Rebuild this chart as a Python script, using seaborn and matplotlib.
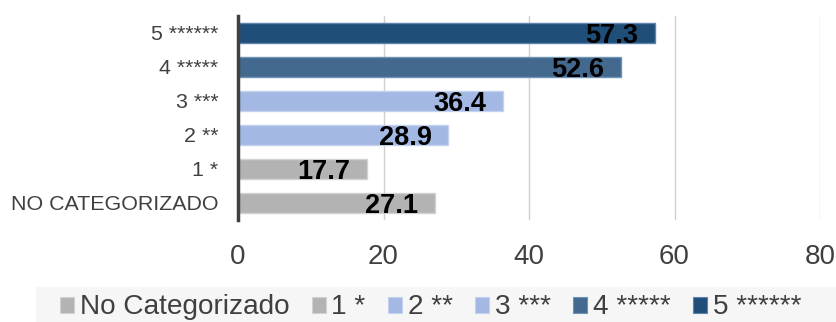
import matplotlib
matplotlib.use("Agg")
import matplotlib.pyplot as plt
import matplotlib.patches as mpatches
import pandas as pd
import seaborn as sns

# Categories (top to bottom) and their values
categories = ["5 ******", "4 *****", "3 ***", "2 **", "1 *", "NO CATEGORIZADO"]
values = [57.3, 52.6, 36.4, 28.9, 17.7, 27.1]
legend_labels = ["No Categorizado", "1 *", "2 **", "3 ***", "4 *****", "5 ******"]
x_ticks = [0, 20, 40, 60, 80]

bar_colors = {
    "5 ******": "#1F4E79",
    "4 *****": "#43698F",
    "3 ***": "#A3B8E2",
    "2 **": "#A3B8E2",
    "1 *": "#B3B3B3",
    "NO CATEGORIZADO": "#B3B3B3",
}
edge_colors = {
    "5 ******": "#5E84AE",
    "4 *****": "#7092B5",
    "3 ***": "#C3D2EE",
    "2 **": "#C3D2EE",
    "1 *": "#D2D2D2",
    "NO CATEGORIZADO": "#D2D2D2",
}
legend_keys = ["NO CATEGORIZADO", "1 *", "2 **", "3 ***", "4 *****", "5 ******"]

sns.set_theme(style="white")
plt.rcParams["font.family"] = ["Liberation Sans", "DejaVu Sans"]

df = pd.DataFrame({"categoria": categories, "valor": values})

fig = plt.figure(figsize=(8.37, 3.22), dpi=100)
ax = fig.add_axes([238 / 837, 1 - 220 / 322, (820 - 238) / 837, (220 - 16) / 322])

sns.barplot(
    data=df, x="valor", y="categoria", hue="categoria", order=categories,
    hue_order=categories, palette=bar_colors, orient="h", width=0.59,
    saturation=1, legend=False, ax=ax,
)

for patch, cat in zip(ax.patches, categories):
    patch.set_edgecolor(edge_colors[cat])
    patch.set_linewidth(1.0)

# Value labels, right-aligned inside the end of each bar
for i, (cat, v) in enumerate(zip(categories, values)):
    ax.annotate(
        f"{v:.1f}", xy=(v, i), xytext=(-12, -2.5), textcoords="offset points",
        ha="right", va="center", fontsize=19.5, fontweight="bold", color="black",
    )

ax.set_xlim(0, 80)
ax.set_ylim(len(categories) - 0.5, -0.5)
ax.set_xticks(x_ticks)
ax.set_xticklabels([str(t) for t in x_ticks])
ax.set_xlabel("")
ax.set_ylabel("")

ax.grid(axis="x", color="#D0D0D0", linewidth=1.0)
ax.grid(axis="y", visible=False)
ax.set_axisbelow(True)

for side in ["top", "right", "bottom"]:
    ax.spines[side].set_visible(False)
ax.spines["left"].set_color("#404040")
ax.spines["left"].set_linewidth(2.5)

ax.tick_params(axis="x", length=0, pad=17, labelsize=20, labelcolor="#404040")
ax.tick_params(axis="y", length=0, pad=14, labelsize=15.4, labelcolor="#404040")

# Legend band along the bottom
band = mpatches.Rectangle((36 / 837, 0), 1 - 36 / 837, 35 / 322,
                          transform=fig.transFigure, facecolor="#F6F6F6",
                          edgecolor="none", zorder=0)
fig.patches.append(band)

handles = [mpatches.Patch(facecolor=bar_colors[k], edgecolor=edge_colors[k], linewidth=0.8)
           for k in legend_keys]
fig.legend(
    handles, legend_labels, loc="center left", bbox_to_anchor=(60 / 837, 14.5 / 322),
    ncol=6, frameon=False, fontsize=20.2, handlelength=0.5, handleheight=0.5,
    handletextpad=0.2, columnspacing=0.8, labelcolor="#404040", borderpad=0,
    borderaxespad=0,
)

fig.savefig("out.png", dpi=100)
